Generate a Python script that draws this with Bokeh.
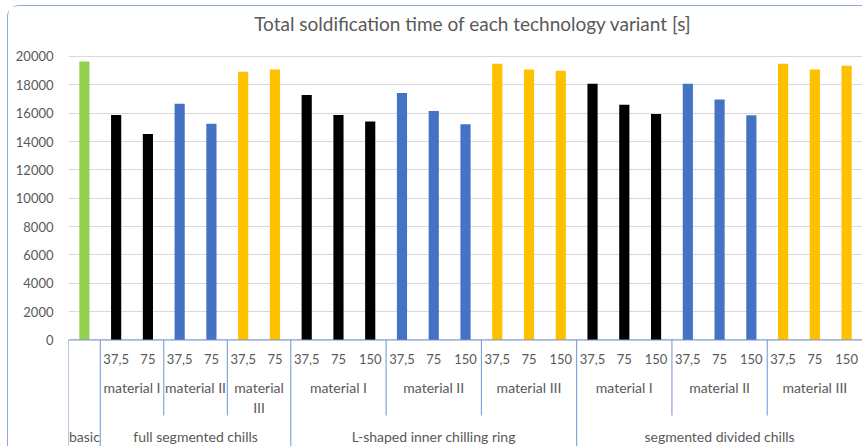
from bokeh.plotting import figure
from bokeh.models import Range1d, FixedTicker, NumeralTickFormatter, ColumnDataSource, Label
from bokeh.core.properties import value
from bokeh.embed import file_html
from bokeh.resources import INLINE

# ---------------- data ----------------
variants = (["basic"]
            + ["full segmented chills"] * 6
            + ["L-shaped inner chilling ring"] * 9
            + ["segmented divided chills"] * 9)
materials = ([""]
             + ["material I"] * 2 + ["material II"] * 2 + ["material III"] * 2
             + (["material I"] * 3 + ["material II"] * 3 + ["material III"] * 3) * 2)
chill_sizes = ([""]
               + ["37,5", "75"] * 3
               + ["37,5", "75", "150"] * 6)
times = [19650,
         15880, 14540, 16660, 15250, 18930, 19080,
         17290, 15880, 15410, 17430, 16160, 15220, 19480, 19080, 19000,
         18070, 16590, 15950, 18070, 16960, 15850, 19480, 19080, 19340]
y_ticks = [0, 2000, 4000, 6000, 8000, 10000, 12000, 14000, 16000, 18000, 20000]
title_text = "Total soldification time of  each technology variant [s]"
wrapped_labels = {("full segmented chills", "material III"): ["material", "III"]}

material_colors = {"": "#92D050", "material I": "#000000",
                   "material II": "#4472C4", "material III": "#FFC000"}

# ---------------- styling constants ----------------
TXT = "#595959"
SEP = "#6F93D6"
FONT = "Lato"
Y0, Y1 = -7584, 23527
HEIGHT = 441
FRAME_H = HEIGHT
U = (Y1 - Y0) / FRAME_H   # data units per pixel
CAT_PX = 794 / 25         # pixels per category

n = len(times)
xs = [i + 0.5 for i in range(n)]
colors = [material_colors[m] for m in materials]

p = figure(width=855, height=HEIGHT, output_backend="svg", toolbar_location=None,
           x_range=Range1d(0, n), y_range=Range1d(Y0, Y1),
           min_border_left=60, min_border_right=1, min_border_top=0, min_border_bottom=0)
p.styles = {"margin-left": "7px", "margin-top": "5px",
            "border-left": "1px solid #8EA9DB", "border-top": "1px solid #8EA9DB",
            "border-top-left-radius": "12px"}

p.outline_line_color = None
p.xaxis.visible = False
p.xgrid.visible = False
p.ygrid.grid_line_color = "#D9D9D9"
p.ygrid.grid_line_width = 1

ya = p.yaxis[0]
ya.ticker = FixedTicker(ticks=y_ticks)
ya.formatter = NumeralTickFormatter(format="0")
ya.axis_line_color = None
ya.major_tick_line_color = None
ya.minor_tick_line_color = None
ya.major_tick_out = 0
ya.major_tick_in = 0
ya.major_label_standoff = 15
ya.major_label_text_font = FONT
ya.major_label_text_font_size = "13px"
ya.major_label_text_color = TXT

# chart title
p.add_layout(Label(x=n / 2 + 10 / CAT_PX, y=316 * U, text=title_text,
                   text_align="center", text_baseline="middle",
                   text_font=FONT, text_font_size="19px", text_color=TXT))

src = ColumnDataSource(dict(x=xs, top=times, color=colors))
p.vbar(x="x", top="top", bottom=0, width=0.32, fill_color="color", line_color=None, source=src)

# ---------------- category table ----------------
p.segment(x0=[0], y0=[0], x1=[n], y1=[0], line_color=SEP, line_width=1)

def runs(keys):
    out = []
    start = 0
    for i in range(1, n + 1):
        if i == n or keys[i] != keys[start]:
            out.append((start, i, keys[start]))
            start = i
    return out

lvl3 = runs(variants)
lvl2 = runs(list(zip(variants, materials)))

long_b = sorted({r[0] for r in lvl3} | {r[1] for r in lvl3})
short_b = sorted(({r[0] for r in lvl2} | {r[1] for r in lvl2}) - set(long_b))

p.segment(x0=long_b, y0=[0] * len(long_b), x1=long_b, y1=[Y0] * len(long_b),
          line_color=SEP, line_width=1)
p.segment(x0=short_b, y0=[0] * len(short_b), x1=short_b, y1=[-75.5 * U] * len(short_b),
          line_color=SEP, line_width=1)

# level 1 labels (digits)
ax, ay, at = [], [], []
for i, c in enumerate(chill_sizes):
    if c:
        ax.append(xs[i]); ay.append(-19.5 * U); at.append(c)
p.text(x=ax, y=ay, text=at, text_align="center", text_baseline="middle",
       text_font=value(FONT), text_font_size="13px", text_color=TXT)

# level 2 and 3 labels
tx, ty, tt = [], [], []
for s, e, (v, m) in lvl2:
    if not m:
        continue
    lines = wrapped_labels.get((v, m), [m])
    for k, line in enumerate(lines):
        tx.append((s + e) / 2); ty.append(-(47.5 + 20 * k) * U); tt.append(line)
for s, e, v in lvl3:
    tx.append((s + e) / 2); ty.append(-96.5 * U); tt.append(v)

p.text(x=tx, y=ty, text=tt, text_align="center", text_baseline="middle",
       text_font=value(FONT), text_font_size="14px", text_color=TXT)

open("out.html", "w").write(file_html(p, INLINE))
